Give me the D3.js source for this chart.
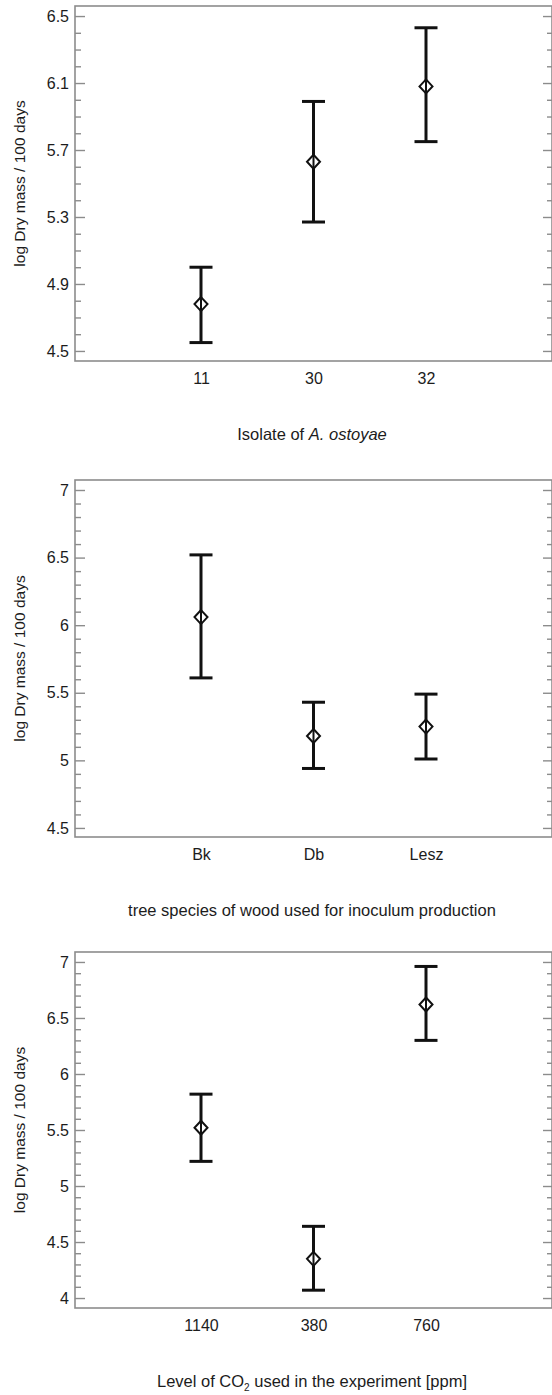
<!DOCTYPE html>
<html>
<head>
<meta charset="utf-8">
<script src="https://cdn.jsdelivr.net/npm/d3@7"></script>
<style>
  body { margin: 0; background: #fff; }
  svg { display: block; font-family: "Liberation Sans", Arial, sans-serif; }
  .frame { fill: none; stroke: #8c8c8c; stroke-width: 1.6; }
  .tick line { stroke: #8c8c8c; stroke-width: 1.4; }
  .tick text { fill: #1c1c1c; font-size: 16px; }
  .axis-label { fill: #1c1c1c; font-size: 16.5px; }
  .y-label { fill: #1c1c1c; font-size: 15.5px; }
  .err { stroke: #111; stroke-width: 3; fill: none; }
  .mean { stroke: #111; stroke-width: 2; fill: #fff; }
</style>
</head>
<body>
<div id="chart"></div>
<script>
// panel 1 - isolates
const cats1 = ["11", "30", "32"];
const mean1 = [4.78, 5.63, 6.08];
const low1 = [4.55, 5.27, 5.75];
const high1 = [5.00, 5.99, 6.43];
const yDomain1 = [4.44, 6.56];
const yMajor1 = [4.5, 4.9, 5.3, 5.7, 6.1, 6.5];

// panel 2 - wood species
const cats2 = ["Bk", "Db", "Lesz"];
const mean2 = [6.06, 5.18, 5.25];
const low2 = [5.61, 4.94, 5.01];
const high2 = [6.52, 5.43, 5.49];
const yDomain2 = [4.433, 7.074];
const yMajor2 = [4.5, 5, 5.5, 6, 6.5, 7];

// panel 3 - CO2 level
const cats3 = ["1140", "380", "760"];
const mean3 = [5.52, 4.35, 6.62];
const low3 = [5.22, 4.07, 6.30];
const high3 = [5.82, 4.64, 6.96];
const yDomain3 = [3.911, 7.089];
const yMajor3 = [4, 4.5, 5, 5.5, 6, 6.5, 7];

const yTitle = "log Dry mass / 100 days";

const W = 552, H = 1395;
const svg = d3.select("#chart").append("svg")
    .attr("width", W)
    .attr("height", H);

const left = 75, right = 552;

function minorTicks(dom) {
    let out = [];
    let start = Math.ceil(dom[0] * 10), end = Math.floor(dom[1] * 10);
    for (let i = start; i <= end; i++) out.push(i / 10);
    return out;
}

function drawPanel(cfg) {
    const {cats, mean, low, high, yDomain, yMajor, top, bottom, title} = cfg;
    const g = svg.append("g");

    const x = d3.scalePoint()
        .domain(cats)
        .range([left, right])
        .padding(1.12);
    const y = d3.scaleLinear()
        .domain(yDomain)
        .range([bottom, top]);

    const majorSet = new Set(yMajor.map(v => v.toFixed(1)));
    const minors = minorTicks(yDomain).filter(v => !majorSet.has(v.toFixed(1)));

    // Left axis (ticks point inward)
    g.append("g")
        .attr("transform", `translate(${left},0)`)
        .call(d3.axisLeft(y).tickValues(minors).tickSize(-6).tickFormat(""))
        .call(s => s.select(".domain").remove());
    g.append("g")
        .attr("transform", `translate(${left},0)`)
        .call(d3.axisLeft(y).tickValues(yMajor).tickSize(-10).tickPadding(6)
            .tickFormat(d => String(d)))
        .call(s => s.select(".domain").remove());

    // Right axis
    g.append("g")
        .attr("transform", `translate(${right},0)`)
        .call(d3.axisRight(y).tickValues(minors).tickSize(-5).tickFormat(""))
        .call(s => s.select(".domain").remove());
    g.append("g")
        .attr("transform", `translate(${right},0)`)
        .call(d3.axisRight(y).tickValues(yMajor).tickSize(-9).tickFormat(""))
        .call(s => s.select(".domain").remove());

    // Bottom labels
    g.append("g")
        .attr("transform", `translate(0,${bottom})`)
        .call(d3.axisBottom(x).tickSize(0).tickPadding(12))
        .call(s => s.select(".domain").remove());

    // frame
    g.append("rect")
        .attr("class", "frame")
        .attr("x", left)
        .attr("y", top)
        .attr("width", right - left)
        .attr("height", bottom - top);

    // y title
    g.append("text")
        .attr("class", "y-label")
        .attr("text-anchor", "middle")
        .attr("transform", `translate(25,${(top + bottom) / 2}) rotate(-90)`)
        .text(yTitle);

    // x title
    const xt = g.append("text")
        .attr("class", "axis-label")
        .attr("text-anchor", "middle")
        .attr("x", 312)
        .attr("y", bottom + 79);
    title(xt);

    // error bars
    const capW = 11.5;
    const pts = cats.map((c, i) => ({c, m: mean[i], lo: low[i], hi: high[i]}));
    const eb = g.append("g").selectAll("g").data(pts).enter().append("g");
    eb.append("line").attr("class", "err")
        .attr("x1", d => x(d.c)).attr("x2", d => x(d.c))
        .attr("y1", d => y(d.lo)).attr("y2", d => y(d.hi));
    eb.append("line").attr("class", "err")
        .attr("x1", d => x(d.c) - capW).attr("x2", d => x(d.c) + capW)
        .attr("y1", d => y(d.hi)).attr("y2", d => y(d.hi));
    eb.append("line").attr("class", "err")
        .attr("x1", d => x(d.c) - capW).attr("x2", d => x(d.c) + capW)
        .attr("y1", d => y(d.lo)).attr("y2", d => y(d.lo));
    eb.append("path").attr("class", "mean")
        .attr("transform", d => `translate(${x(d.c)},${y(d.m)})`)
        .attr("d", "M0,-7L6.5,0L0,7L-6.5,0Z");
    eb.append("line")
        .attr("stroke", "#111").attr("stroke-width", 2)
        .attr("x1", d => x(d.c)).attr("x2", d => x(d.c))
        .attr("y1", d => y(d.m) - 6).attr("y2", d => y(d.m) + 6);
}

drawPanel({
    cats: cats1, mean: mean1, low: low1, high: high1,
    yDomain: yDomain1, yMajor: yMajor1, top: 6, bottom: 361,
    title: t => {
        t.append("tspan").text("Isolate of ");
        t.append("tspan").attr("font-style", "italic").text("A. ostoyae");
    }
});

drawPanel({
    cats: cats2, mean: mean2, low: low2, high: high2,
    yDomain: yDomain2, yMajor: yMajor2, top: 480, bottom: 837,
    title: t => t.text("tree species of wood used for inoculum production")
});

drawPanel({
    cats: cats3, mean: mean3, low: low3, high: high3,
    yDomain: yDomain3, yMajor: yMajor3, top: 952, bottom: 1308,
    title: t => {
        t.append("tspan").text("Level of CO");
        t.append("tspan").attr("font-size", "10px").attr("dy", 4).text("2");
        t.append("tspan").attr("dy", -4).text(" used in the experiment [ppm]");
    }
});
</script>
</body>
</html>
